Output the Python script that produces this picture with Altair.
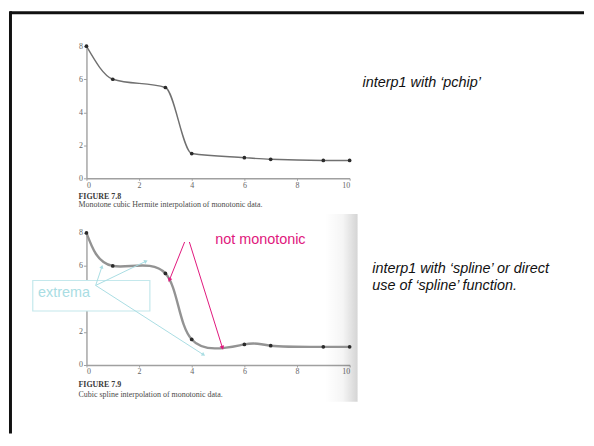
import math
import altair as alt
import pandas as pd

# ---------------- data ----------------
x_data = [0, 1, 3, 4, 6, 7, 9, 10]
y_pchip = [8, 6, 5.5, 1.5, 1.25, 1.15, 1.08, 1.08]
y_spline = [8, 6, 5.55, 1.55, 1.25, 1.17, 1.1, 1.1]
x_ticks = [0, 2, 4, 6, 8, 10]
y_ticks_top = [0, 2, 4, 6, 8]
y_ticks_bottom = [0, 2, 6, 8]   # the "4" is hidden under the 'extrema' box

fig_labels = ["FIGURE 7.8", "FIGURE 7.9"]
fig_captions = ["Monotone cubic Hermite interpolation of monotonic data.",
                "Cubic spline interpolation of monotonic data."]
side_top = "interp1 with \u2018pchip\u2019"
side_bottom = ["interp1 with \u2018spline\u2019 or direct",
               "use of \u2018spline\u2019 function."]

# annotation arrows, in data coordinates of the lower figure
extrema_x0 = [0.35, 0.35, 0.35]
extrema_y0 = [4.82, 4.82, 4.82]
extrema_x1 = [0.58, 2.24, 4.43]
extrema_y1 = [5.92, 6.27, 0.64]
mono_x0 = [3.73, 3.91]
mono_y0 = [7.45, 7.45]
mono_x1 = [3.16, 5.16]
mono_y1 = [5.18, 1.08]
extrema_box = {"x": [-2.04], "x2": [2.41], "y": [3.27], "y2": [5.12]}
extrema_label = {"x": [-1.84], "y": [4.37], "t": ["extrema"]}
mono_label = {"x": [4.89], "y": [7.6], "t": ["not monotonic"]}

# ---------------- layout / style ----------------
W, H = 265, 133
XDOM, YDOM = [0, 10], [0, 8]
SERIF = "Liberation Serif"
SANS = "Liberation Sans"
CYAN = "#a9dde3"
CYAN_BOX = "#c4e8ec"
MAGENTA = "#e0177c"
one = pd.DataFrame({"_": [0]})

X_AXIS = alt.Axis(values=x_ticks, title=None, grid=False, labelFont=SERIF,
                  labelFontSize=8, labelColor="#666", domainColor="#a0a0a0",
                  domainWidth=1.4, tickColor="#a0a0a0", tickSize=2,
                  labelPadding=1)


def y_axis(vals):
    return alt.Axis(values=vals, title=None, grid=False, labelFont=SERIF,
                    labelFontSize=8, labelColor="#666", domainColor="#a0a0a0",
                    domainWidth=1.4, tickColor="#a0a0a0", tickSize=3,
                    labelPadding=1)


Y_AXIS_TOP = y_axis(y_ticks_top)
Y_AXIS_BOT = y_axis(y_ticks_bottom)


def xenc(field):
    return alt.X(field, type="quantitative",
                 scale=alt.Scale(domain=XDOM, nice=False), axis=X_AXIS)


def yenc(field, ax):
    return alt.Y(field, type="quantitative",
                 scale=alt.Scale(domain=YDOM, nice=False), axis=ax)


def arrow_angle(x0, y0, x1, y1):
    sx, sy = W / (XDOM[1] - XDOM[0]), H / (YDOM[1] - YDOM[0])
    dx, dy = (x1 - x0) * sx, -(y1 - y0) * sy
    return math.degrees(math.atan2(dx, -dy)) % 360


def caption(label, text, y1, y2):
    a = alt.Chart(one).mark_text(text=label, font=SERIF, fontWeight="bold",
                                 fontSize=8, color="#3a3a3a", align="left",
                                 baseline="middle").encode(
        x=alt.value(-8), y=alt.value(y1))
    b = alt.Chart(one).mark_text(text=text, font=SERIF, fontSize=8,
                                 color="#4a4a4a", align="left",
                                 baseline="middle").encode(
        x=alt.value(-8), y=alt.value(y2))
    return a + b


# ---------------- top panel ----------------
df_top = pd.DataFrame({"x": x_data, "y": y_pchip})

frame_top = alt.Chart(one).mark_rule(color="#111", strokeWidth=3).encode(
    x=alt.value(-77), x2=alt.value(501), y=alt.value(-33.8))
frame_left = alt.Chart(one).mark_rule(color="#111", strokeWidth=3).encode(
    x=alt.value(-76.5), y=alt.value(-35.3), y2=alt.value(390))

top_line = alt.Chart(df_top).mark_line(
    interpolate="monotone", color="#707070", strokeWidth=1.4).encode(
    x=xenc("x"), y=yenc("y", Y_AXIS_TOP))
top_pts = alt.Chart(df_top).mark_point(
    filled=True, color="#2b2b2b", size=14, opacity=1).encode(
    x=xenc("x"), y=yenc("y", Y_AXIS_TOP))
top_side = alt.Chart(one).mark_text(
    text=side_top, font=SANS, fontStyle="italic", fontSize=14.5,
    color="#111", align="left", baseline="middle").encode(
    x=alt.value(278), y=alt.value(36.7))

top = alt.layer(frame_top, frame_left, top_line, top_pts, top_side,
                caption(fig_labels[0], fig_captions[0], 151.5, 160)
                ).properties(width=W, height=H)

# ---------------- bottom panel ----------------
df_bot = pd.DataFrame({"x": x_data, "y": y_spline})
YB = Y_AXIS_BOT

shade = alt.Chart(one).mark_rect(fill={
    "gradient": "linear", "x1": 0, "x2": 1, "y1": 0, "y2": 0,
    "stops": [{"offset": 0, "color": "rgba(0,0,0,0)"},
              {"offset": 0.55, "color": "rgba(0,0,0,0.04)"},
              {"offset": 1, "color": "rgba(0,0,0,0.17)"}]}).encode(
    x=alt.value(240), x2=alt.value(273), y=alt.value(-19), y2=alt.value(170))

bot_line = alt.Chart(df_bot).mark_line(
    interpolate="natural", color="#939393", strokeWidth=2.4).encode(
    x=xenc("x"), y=yenc("y", YB))
bot_pts = alt.Chart(df_bot).mark_point(
    filled=True, color="#2b2b2b", size=14, opacity=1).encode(
    x=xenc("x"), y=yenc("y", YB))

df_ext = pd.DataFrame({"x0": extrema_x0, "y0": extrema_y0,
                       "x1": extrema_x1, "y1": extrema_y1})
df_ext["ang"] = [arrow_angle(a, b, c, d) for a, b, c, d in
                 zip(extrema_x0, extrema_y0, extrema_x1, extrema_y1)]
df_mono = pd.DataFrame({"x0": mono_x0, "y0": mono_y0,
                        "x1": mono_x1, "y1": mono_y1})
df_mono["ang"] = [arrow_angle(a, b, c, d) for a, b, c, d in
                  zip(mono_x0, mono_y0, mono_x1, mono_y1)]

ext_lines = alt.Chart(df_ext).mark_rule(color=CYAN, strokeWidth=1).encode(
    x=xenc("x0"), y=yenc("y0", YB), x2="x1", y2="y1")
ext_heads = alt.Chart(df_ext).mark_point(
    shape="triangle", filled=True, color=CYAN, size=18, opacity=1).encode(
    x=xenc("x1"), y=yenc("y1", YB), angle=alt.Angle("ang:Q", scale=None))
mono_lines = alt.Chart(df_mono).mark_rule(color=MAGENTA, strokeWidth=1).encode(
    x=xenc("x0"), y=yenc("y0", YB), x2="x1", y2="y1")
mono_heads = alt.Chart(df_mono).mark_point(
    shape="triangle", filled=True, color=MAGENTA, size=22, opacity=1).encode(
    x=xenc("x1"), y=yenc("y1", YB), angle=alt.Angle("ang:Q", scale=None))

box = alt.Chart(pd.DataFrame(extrema_box)).mark_rect(
    fill="white", fillOpacity=1, stroke=CYAN_BOX, strokeWidth=1.2).encode(
    x=xenc("x"), x2="x2", y=yenc("y", YB), y2="y2")
ext_text = alt.Chart(pd.DataFrame(extrema_label)).mark_text(
    font=SANS, fontSize=14.5, color=CYAN, align="left",
    baseline="middle").encode(x=xenc("x"), y=yenc("y", YB), text="t:N")
mono_text = alt.Chart(pd.DataFrame(mono_label)).mark_text(
    font=SANS, fontSize=14.5, color=MAGENTA, align="left",
    baseline="middle").encode(x=xenc("x"), y=yenc("y", YB), text="t:N")

bot_side = alt.Chart(one).mark_text(
    text=side_bottom, font=SANS, fontStyle="italic", fontSize=14.5,
    lineHeight=17, color="#111", align="left", baseline="middle").encode(
    x=alt.value(287.7), y=alt.value(36.3))

bottom = alt.layer(shade, bot_line, bot_pts, box, ext_lines, ext_heads,
                   ext_text, mono_lines, mono_heads, mono_text, bot_side,
                   caption(fig_labels[1], fig_captions[1], 153, 163)
                   ).properties(width=W, height=H)

chart = alt.vconcat(top, bottom, spacing=55, bounds="flush").properties(
    padding=0, background="white"
).configure_view(stroke=None)

chart.save("out.html", embed_options={"renderer": "svg", "actions": False})
